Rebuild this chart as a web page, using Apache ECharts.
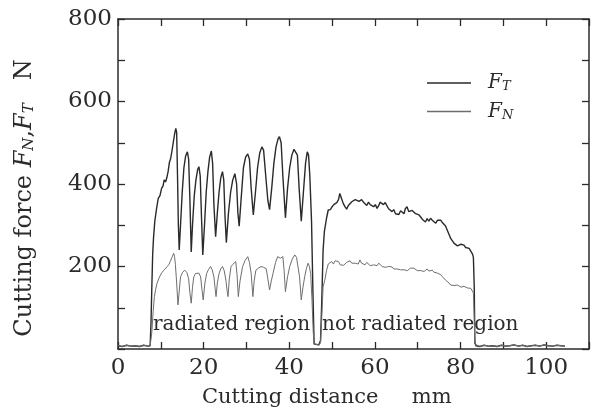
<!DOCTYPE html>
<html>
<head>
<meta charset="utf-8">
<script src="https://cdn.jsdelivr.net/npm/echarts@6/dist/echarts.min.js"></script>
<style>
html,body{margin:0;padding:0;background:#fff;}
#chart{width:601px;height:413px;}
</style>
</head>
<body>
<div id="chart"></div>
<script>
// ---- data ----
const xTickLabels = [0, 20, 40, 60, 80, 100];
const yTickLabels = [200, 400, 600, 800];

// Tangential force F_T : [cutting distance mm, force N]
const ftPoints = [
  [0,8],[1,6],[2,9],[3,7],[4,8],[5,6],[6,9],[7,7],[7.5,8],
  [7.7,60],[7.9,150],[8.1,230],[8.3,270],[8.6,310],[9.0,340],[9.4,365],[9.8,372],[10.2,390],[10.5,395],
  [10.8,410],[11.1,405],[11.4,415],[11.7,430],[12.0,452],[12.3,462],[12.6,480],[12.9,500],[13.2,520],[13.5,535],
  [13.7,525],[13.9,420],[14.1,300],[14.3,240],[14.6,300],[15.0,380],[15.4,440],[15.8,468],[16.2,478],[16.5,460],
  [16.8,360],[17.1,235],[17.4,300],[17.8,370],[18.2,410],[18.6,435],[18.9,442],[19.2,420],[19.5,320],[19.8,228],
  [20.2,300],[20.6,380],[21.0,430],[21.4,465],[21.8,480],[22.1,450],[22.4,350],[22.8,272],[23.2,330],[23.6,380],
  [24.0,415],[24.4,430],[24.7,410],[25.0,320],[25.3,258],[25.8,330],[26.3,380],[26.8,410],[27.3,425],[27.7,400],
  [28.0,330],[28.3,298],[28.8,370],[29.3,440],[29.8,465],[30.3,473],[30.7,460],[31.1,390],[31.6,325],[32.1,380],
  [32.6,440],[33.1,475],[33.6,490],[34.0,482],[34.5,420],[35.0,360],[35.4,338],[35.9,390],[36.4,450],[36.9,490],
  [37.4,510],[37.7,515],[38.1,500],[38.5,420],[39.1,318],[39.6,390],[40.1,440],[40.6,470],[41.1,484],[41.5,487],
  [41.9,470],[42.3,390],[42.8,310],[43.3,380],[43.8,450],[44.2,478],[44.5,470],[44.8,420],[45.2,310],[45.5,150],
  [45.8,12],[46.2,8],[46.9,10],[47.3,20],[47.6,120],[47.9,240],[48.2,285],[48.7,317],[49.1,337],[49.6,338],
  [50.0,345],[50.4,350],[50.8,352],[51.1,355],[51.5,362],[51.8,377],[52.2,365],[52.6,353],[53.0,345],[53.4,339],
  [53.8,348],[54.2,352],[54.6,357],[55.0,360],[55.4,362],[55.8,364],[56.3,358],[56.9,362],[57.4,355],[57.8,358],
  [58.1,348],[58.5,356],[58.9,350],[59.3,354],[59.7,345],[60.1,350],[60.5,341],[60.9,348],[61.2,356],[61.6,352],
  [62.0,350],[62.4,355],[62.8,352],[63.2,340],[63.6,336],[64.0,333],[64.4,338],[64.8,328],[65.2,330],[65.6,326],
  [66.0,335],[66.4,338],[66.8,328],[67.1,340],[67.5,345],[67.9,333],[68.3,330],[68.7,336],[69.1,332],[69.5,328],
  [69.9,326],[70.3,325],[70.7,320],[71.1,314],[71.5,312],[71.8,308],[72.2,316],[72.6,310],[73.0,317],[73.4,312],
  [73.8,308],[74.2,305],[74.6,312],[75.0,314],[75.4,312],[75.8,306],[76.1,308],[76.5,298],[76.9,288],[77.3,278],
  [77.7,268],[78.1,262],[78.5,256],[78.9,258],[79.3,250],[79.7,248],[80.1,254],[80.5,250],[80.8,252],[81.2,246],
  [81.6,248],[82.0,244],[82.4,240],[82.8,230],[83.0,222],[83.2,150],[83.35,15],
  [83.6,8],[84.5,6],[85.5,9],[86.5,7],[87.5,8],[88.5,6],[89.5,9],[90.5,7],[91.5,8],[92.5,10],[93.5,7],
  [94.5,9],[95.5,6],[96.5,8],[97.5,9],[98.5,7],[99.5,10],[100.5,8],[101.5,7],[102.5,9],[103.5,8],[104.4,7]
];

// Normal force F_N : [cutting distance mm, force N]
const fnPoints = [
  [0,8],[1,6],[2,9],[3,7],[4,8],[5,6],[6,9],[7,7],[7.5,8],
  [7.6,10],[7.9,40],[8.2,90],[8.5,127],[8.8,145],[9.1,159],[9.5,170],[9.9,179],[10.3,186],[10.7,191],
  [11.1,195],[11.5,200],[11.9,205],[12.2,212],[12.6,222],[13.0,232],[13.2,225],[13.4,205],[13.7,160],[14.0,107],
  [14.3,140],[14.6,175],[15.1,186],[15.6,191],[16.1,185],[16.5,170],[16.8,135],[17.1,111],[17.4,150],[17.7,175],
  [18.1,183],[18.5,187],[18.9,184],[19.3,175],[19.6,145],[19.9,119],[20.3,160],[20.7,183],[21.1,192],[21.6,200],
  [22.0,192],[22.4,175],[22.7,145],[22.9,127],[23.2,160],[23.6,183],[24.0,194],[24.4,200],[24.8,190],[25.2,167],
  [25.5,140],[25.7,127],[26.0,170],[26.4,200],[26.8,205],[27.1,208],[27.5,212],[27.8,180],[28.1,127],[28.5,165],
  [29.1,200],[29.7,215],[30.3,224],[30.7,210],[31.1,183],[31.5,127],[31.8,165],[32.2,191],[32.8,196],[33.4,200],
  [34.0,198],[34.6,195],[35.0,170],[35.4,143],[35.8,165],[36.2,183],[36.8,210],[37.3,224],[37.9,220],[38.5,224],
  [38.8,190],[39.1,139],[39.6,175],[40.1,200],[40.7,218],[41.3,228],[41.7,222],[42.0,220],[42.4,175],[42.8,119],
  [43.2,150],[43.6,175],[44.0,195],[44.4,208],[44.7,200],[45.0,183],[45.3,120],[45.6,40],[45.8,12],[46.2,8],
  [46.9,10],[47.3,15],[47.6,80],[47.9,151],[48.3,167],[48.7,190],[49.1,206],[49.5,210],[49.9,212],[50.3,206],
  [50.7,214],[51.1,210],[51.5,212],[51.9,204],[52.3,208],[52.7,203],[53.0,204],[53.4,210],[53.8,206],[54.2,214],
  [54.6,208],[55.0,210],[55.4,208],[55.8,212],[56.1,206],[56.5,216],[56.9,208],[57.3,212],[57.7,204],[58.1,210],
  [58.5,208],[58.9,202],[59.3,206],[59.7,204],[60.1,208],[60.5,202],[60.9,208],[61.3,204],[61.7,200],[62.1,204],
  [62.5,198],[62.9,202],[63.2,200],[63.6,196],[64.0,199],[64.4,194],[64.8,198],[65.2,194],[65.6,195],[66.0,192],
  [66.4,196],[66.8,192],[67.2,195],[67.6,190],[67.9,193],[68.3,196],[68.7,192],[69.1,196],[69.5,195],[69.9,190],
  [70.3,194],[70.7,190],[71.1,193],[71.5,188],[71.8,191],[72.2,194],[72.6,189],[73.0,192],[73.4,191],[73.8,186],
  [74.2,188],[74.6,184],[75.0,183],[75.4,180],[75.8,175],[76.1,172],[76.5,167],[76.9,164],[77.3,160],[77.7,155],
  [78.1,151],[78.5,154],[78.9,150],[79.3,155],[79.7,153],[80.1,150],[80.5,154],[80.8,152],[81.2,151],[81.6,148],
  [82.0,150],[82.4,147],[82.8,140],[83.0,135],[83.2,70],[83.35,12],
  [83.6,8],[84.5,6],[85.5,9],[86.5,7],[87.5,8],[88.5,6],[89.5,9],[90.5,7],[91.5,8],[92.5,10],[93.5,7],
  [94.5,9],[95.5,6],[96.5,8],[97.5,9],[98.5,7],[99.5,10],[100.5,8],[101.5,7],[102.5,9],[103.5,8],[104.4,7]
];

const regionLabels = ['radiated region', 'not radiated region'];

// ---- chart ----
const SERIF = '"DejaVu Serif", "Liberation Serif", serif';
const INK = '#2b2b2b';
const chart = echarts.init(document.getElementById('chart'), null, {renderer: 'canvas'});

const axisCommon = {
  type: 'value',
  axisLine: {show: true, onZero: false, lineStyle: {color: INK, width: 1.5}},
  axisTick: {show: true, inside: true, length: 7, lineStyle: {color: INK, width: 1.3}},
  splitLine: {show: false}
};

chart.setOption({
  animation: false,
  backgroundColor: '#ffffff',
  grid: {left: 118, right: 12, top: 19, bottom: 64, containLabel: false},
  xAxis: [
    Object.assign({}, axisCommon, {
      min: 0, max: 110, interval: 10, position: 'bottom',
      axisLabel: {
        margin: 8, fontFamily: SERIF, fontSize: 23, color: INK,
        formatter: v => xTickLabels.includes(v) ? String(v) : ''
      }
    }),
    Object.assign({}, axisCommon, {
      min: 0, max: 110, interval: 10, position: 'top',
      axisLabel: {show: false}
    })
  ],
  yAxis: [
    Object.assign({}, axisCommon, {
      min: 0, max: 800, interval: 100, position: 'left',
      axisLabel: {
        margin: 6, fontFamily: SERIF, fontSize: 23, color: INK,
        formatter: v => yTickLabels.includes(v) ? String(v) : ''
      }
    }),
    Object.assign({}, axisCommon, {
      min: 0, max: 800, interval: 100, position: 'right',
      axisLabel: {show: false}
    })
  ],
  legend: {
    orient: 'vertical', left: 422, top: 68, itemWidth: 44, itemHeight: 1.5, itemGap: 8,
    icon: 'rect',
    data: ['FT', 'FN'],
    formatter: name => name === 'FT' ? '{i|F}{s|T}' : '{i|F}{s|N}',
    textStyle: {
      color: INK,
      rich: {
        i: {fontFamily: SERIF, fontStyle: 'italic', fontSize: 20, color: INK, padding: [0, 0, 0, 12], height: 22},
        s: {fontFamily: SERIF, fontStyle: 'italic', fontSize: 13, color: INK, verticalAlign: 'bottom', height: 22, padding: [8, 0, 0, 0]}
      }
    }
  },
  series: [
    {
      name: 'FT', type: 'line', xAxisIndex: 0, yAxisIndex: 0,
      data: ftPoints, symbol: 'none', showSymbol: false,
      lineStyle: {color: '#2a2a2a', width: 1.4},
      itemStyle: {color: '#2a2a2a'}
    },
    {
      name: 'FN', type: 'line', xAxisIndex: 0, yAxisIndex: 0,
      data: fnPoints, symbol: 'none', showSymbol: false,
      lineStyle: {color: '#6e6e6e', width: 1},
      itemStyle: {color: '#6e6e6e'}
    }
  ],
  graphic: [
    {type: 'text', left: 153, top: 315, style: {text: regionLabels[0], fontFamily: SERIF, fontSize: 20, fill: INK}},
    {type: 'text', left: 322, top: 315, style: {text: regionLabels[1], fontFamily: SERIF, fontSize: 20, fill: INK}},
    {type: 'text', left: 202, top: 387, style: {text: 'Cutting distance     mm', fontFamily: SERIF, fontSize: 21, fill: INK}},
    {
      type: 'text', x: 25, y: 198, rotation: Math.PI / 2,
      style: {
        text: 'Cutting force {i|F}{s|N},{i|F}{s|T}   N',
        fontFamily: SERIF, fontSize: 24, fill: INK, align: 'center', verticalAlign: 'middle',
        rich: {
          i: {fontFamily: SERIF, fontStyle: 'italic', fontSize: 24, fill: INK},
          s: {fontFamily: SERIF, fontStyle: 'italic', fontSize: 15, fill: INK, verticalAlign: 'bottom', padding: [8, 0, 0, 0]}
        }
      }
    }
  ]
});
</script>
</body>
</html>
